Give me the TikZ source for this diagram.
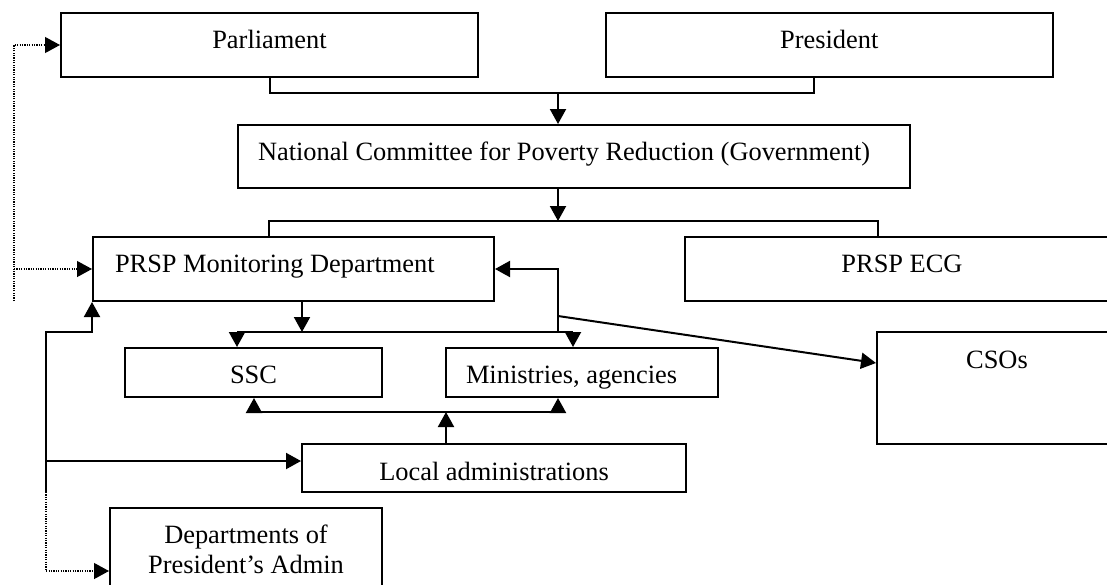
\documentclass[tikz,border=0pt]{standalone}
\usepackage{fontspec}
\setmainfont{Liberation Serif}
\usetikzlibrary{arrows.meta,calc}
\begin{document}
\begin{tikzpicture}[x=0.5pt,y=-0.5pt,
  font=\fontsize{13.2pt}{15pt}\selectfont,
  box/.style={draw, line width=1pt, inner sep=0pt, rectangle},
  sz/.style 2 args={minimum width=#1*0.5pt, minimum height=#2*0.5pt},
  conn/.style={line width=1pt},
  arr/.style={conn, -{Triangle[length=7.5pt,width=8pt]}},
  dot/.style={line width=0.6pt, dash pattern=on 0.6pt off 0.6pt},
  dotarr/.style={dot, -{Triangle[length=7.5pt,width=8pt]}}]
\useasboundingbox (0,0) rectangle (1107,584);
\clip (0,0) rectangle (1107,584);

% boxes
\node[box, sz={417}{64}, text height=9pt, text depth=6pt] (parl) at (269.5,45) {Parliament};
\node[box, sz={447.5}{64}, text height=9pt, text depth=6pt] (pres) at (829.25,45) {President};
\node[box, sz={672.5}{63}, text height=9pt, text depth=5.5pt, inner xsep=10.25pt, text width=315.75pt, align=flush left] (nc) at (573.75,156.5) {National Committee for Poverty Reduction (Government)};
\node[box, sz={401}{64}, text height=9pt, text depth=6pt, inner xsep=11pt, text width=178.5pt, align=flush left] (mon) at (293.5,269) {PRSP Monitoring Department};
\node[box, sz={434}{64}, text height=9pt, text depth=6pt] (ecg) at (902,269) {PRSP ECG};
\node[box, sz={257}{49}, text height=12pt, text depth=1.5pt] (ssc) at (253.5,372.5) {SSC};
\node[box, sz={272.3}{49}, text height=12pt, text depth=1.5pt, inner xsep=10.15pt, text width=115.85pt, align=flush left] (min) at (581.85,372.5) {Ministries, agencies};
\node[box, sz={240}{112}, text height=9pt, text depth=29pt] (csos) at (997,388) {CSOs};
\node[box, sz={384}{48}, text height=13pt, text depth=1pt] (loc) at (494,468) {Local administrations};
\node[box, sz={272}{82}, align=center] (dep) at (246,549) {Departments of\\President’s Admin};

% top connectors
\coordinate (j1) at (558,93);
\coordinate (presOut) at ($(pres.south)+(-15,0)$);
\draw[conn] (parl.south) |- (j1);
\draw[conn] (presOut) |- (j1);
\draw[arr] (j1) -- (j1 |- nc.north);

\coordinate (j2) at (558,221);
\draw[arr] (nc.south -| j2) -- (j2);
\coordinate (b1) at (269,221);
\coordinate (b2) at (878,221);
\draw[conn] (mon.north -| b1) |- (b2) -- (ecg.north -| b2);

% middle
\coordinate (r1) at (558,332);
\draw[arr] (r1) |- (mon.east);
\coordinate (m1) at (302,332);
\draw[arr] (mon.south -| m1) -- (m1);
\coordinate (s1) at (237,332);
\coordinate (s2) at (573,332);
\draw[conn] (s1) -- (s2);
\draw[arr] (s1) -- (s1 |- ssc.north);
\draw[arr] (s2) -- (s2 |- min.north);
\coordinate (c1) at (558,316);
\draw[arr] (c1) -- ($(csos.north west)+(0,32)$);

% lower bus
\coordinate (u1) at (254,412);
\coordinate (u2) at (558,412);
\coordinate (u3) at (446,412);
\draw[conn] (u1) -- (u2);
\draw[arr] (u1) -- (u1 |- ssc.south);
\draw[arr] (u2) -- (u2 |- min.south);
\draw[arr] (u3 |- loc.north) -- (u3);

% left side
\coordinate (l1) at (46,332);
\coordinate (l2) at (46,461);
\coordinate (l3) at (46,492);
\coordinate (l4) at (46,571);
\draw[arr] (l3) -- (l1) -| (mon.south west);
\draw[arr] (l2) -- (l2 -| loc.west);
\draw[dotarr] (l3) -- (l4) -- (l4 -| dep.west);

\coordinate (d2) at (14,301);
\draw[dotarr] (d2) |- (parl.west);
\draw[dotarr] (d2 |- mon.west) -- (mon.west);
\end{tikzpicture}
\end{document}
